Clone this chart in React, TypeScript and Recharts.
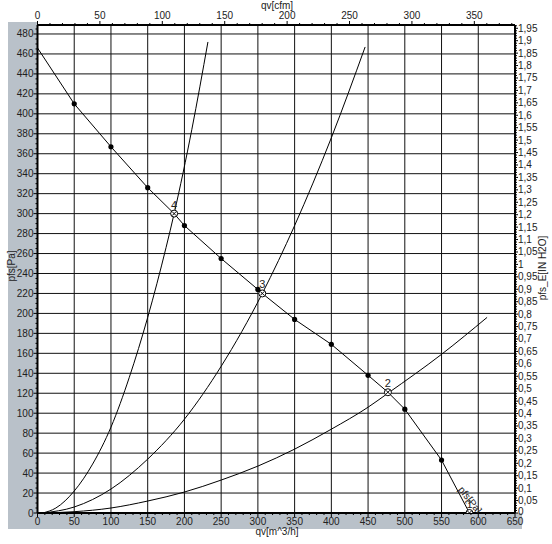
import React from 'react';
import { ComposedChart, Line, Scatter, XAxis, YAxis, ReferenceLine } from 'recharts';

const FONT = '"Liberation Sans", Arial, sans-serif';
const PA_PER_IN = 249.089;
const M3H_PER_CFM = 1.699;
const FLOW_MAX = 650;
const PA_MAX = 489;

// fan curve pfs [Pa] over qv [m^3/h]
const fanFlow = [0, 50, 100, 150, 186, 200, 250, 300, 306, 350, 400, 450, 477, 500, 550, 588];
const fanPressure = [466, 410, 367, 326, 300, 288, 255, 224, 220, 194, 169, 138, 121, 104, 53, 0];

// measured points on the fan curve
const markFlow = [50, 100, 150, 200, 250, 300, 350, 400, 450, 500, 550];
const markPressure = [410, 367, 326, 288, 255, 224, 194, 169, 138, 104, 53];

// system curves
const sysAFlow = [7, 25, 50, 75, 100, 125, 150, 175, 186, 210, 232];
const sysAPressure = [0, 5, 22, 49, 86, 136, 196, 266, 300, 384, 472];
const sysBFlow = [7, 50, 100, 150, 200, 250, 306, 350, 400, 446];
const sysBPressure = [0, 6, 24, 54, 94, 147, 220, 288, 376, 467];
const sysCFlow = [7, 50, 100, 150, 200, 250, 300, 350, 400, 450, 477, 550, 612];
const sysCPressure = [0, 1.3, 5, 12, 21, 33, 47, 64, 84, 106, 120, 159, 196];

// operating points
const opNames = ['4', '3', '2', '1'];
const opFlow = [186, 306, 477, 588];
const opPressure = [300, 220, 121, 0];

// ticks
const flowTicks = Array.from({ length: 66 }, (_, i) => i * 10);
const cfmTicks = Array.from({ length: 39 }, (_, i) => i * 10);
const paTicks = Array.from({ length: 98 }, (_, i) => i * 5);
const inTicks = Array.from({ length: 197 }, (_, i) => i / 100);
const flowGrid = [50, 100, 150, 200, 250, 300, 350, 400, 450, 500, 550, 600];
const paGrid = [20, 40, 60, 80, 100, 120, 140, 160, 180, 200, 220, 240, 260, 280, 300, 320, 340, 360, 380, 400, 420, 440, 460, 480];

const toXY = (xs: number[], ys: number[]) => xs.map((v, i) => ({ v, p: ys[i] }));
const fanData = toXY(fanFlow, fanPressure);
const markData = toXY(markFlow, markPressure);
const sysA = toXY(sysAFlow, sysAPressure);
const sysB = toXY(sysBFlow, sysBPressure);
const sysC = toXY(sysCFlow, sysCPressure);
const opData = opNames.map((n, i) => ({ n, v: opFlow[i], p: opPressure[i] }));
// invisible anchor so the cfm axis has an attached series
const cfmAnchor = cfmTicks.map((c) => ({ v: c, p: 0 }));

const txt = { fontSize: 10, fill: '#222', fontFamily: FONT };

const BottomTick = ({ x, y, payload }: any) => {
  const v = payload.value;
  const major = v % 50 === 0;
  return (
    <g>
      <line x1={x} x2={x} y1={y} y2={y + (major ? 4 : 2)} stroke="#000" />
      {major && <text x={x} y={y + 12} textAnchor="middle" {...txt}>{v}</text>}
    </g>
  );
};

const TopTick = ({ x, y, payload }: any) => {
  const v = payload.value;
  const major = v % 50 === 0;
  return (
    <g>
      <line x1={x} x2={x} y1={y} y2={y - (major ? 4 : 2)} stroke="#000" />
      {major && <text x={x} y={y - 6} textAnchor="middle" {...txt}>{v}</text>}
    </g>
  );
};

const LeftTick = ({ x, y, payload }: any) => {
  const v = payload.value;
  const major = v % 20 === 0;
  return (
    <g>
      <line x1={x} x2={x - (major ? 4 : 2)} y1={y} y2={y} stroke="#000" />
      {major && <text x={x - 4} y={y + 3.5} textAnchor="end" {...txt}>{v}</text>}
    </g>
  );
};

const RightTick = ({ x, y, payload }: any) => {
  const h = Math.round(payload.value * 100);
  const major = h % 5 === 0;
  const label = String(h / 100).replace('.', ',');
  return (
    <g>
      <line x1={x} x2={x + (major ? 3 : 2)} y1={y} y2={y} stroke="#000" />
      {major && <text x={x + 3} y={y + (h === 0 ? 2 : 3.5)} textAnchor="start" {...txt}>{label}</text>}
    </g>
  );
};

const OpShape = ({ cx, cy, payload }: any) => (
  <g>
    <circle cx={cx} cy={cy} r={3.5} fill="#fff" stroke="#000" strokeWidth={1} />
    <line x1={cx - 2} x2={cx + 2} y1={cy - 2} y2={cy + 2} stroke="#000" />
    <line x1={cx - 2} x2={cx + 2} y1={cy + 2} y2={cy - 2} stroke="#000" />
    <text x={cx} y={cy - 5} textAnchor="middle" fontSize={11} fill="#222" fontFamily={FONT}>{payload.n}</text>
    {payload.n === '1' && (
      <text
        x={cx - 2}
        y={cy - 11}
        textAnchor="middle"
        fontSize={10}
        fill="#222"
        fontFamily={FONT}
        transform={`rotate(52 ${cx - 2} ${cy - 11})`}
      >
        pfs[Pa]
      </text>
    )}
  </g>
);

const DotShape = ({ cx, cy }: any) => <circle cx={cx} cy={cy} r={2.6} fill="#000" />;
const NoShape = () => <g />;

const title: React.CSSProperties = {
  position: 'absolute',
  fontFamily: FONT,
  fontSize: 10,
  color: '#222',
  whiteSpace: 'nowrap',
  lineHeight: '10px',
};

export default function App() {
  return (
    <div style={{ position: 'absolute', left: 0, top: 0, width: 552, height: 544, background: '#fff' }}>
      <div style={{ position: 'absolute', left: 8, top: 22, width: 30, height: 507, background: '#b9c1c9' }} />
      <div style={{ position: 'absolute', left: 8, top: 513, width: 514, height: 16, background: '#b9c1c9' }} />
      <ComposedChart
        width={552}
        height={544}
        margin={{ top: 5, right: 7, bottom: 11, left: 7.5 }}
      >
        <XAxis
          xAxisId="m3"
          dataKey="v"
          type="number"
          orientation="bottom"
          domain={[0, FLOW_MAX]}
          allowDataOverflow
          ticks={flowTicks}
          interval={0}
          height={20}
          tickSize={0}
          tickMargin={0}
          tickLine={false}
          tick={<BottomTick />}
          axisLine={{ stroke: '#000', strokeWidth: 2 }}
        />
        <XAxis
          xAxisId="cfm"
          dataKey="v"
          type="number"
          orientation="top"
          domain={[0, FLOW_MAX / M3H_PER_CFM]}
          allowDataOverflow
          ticks={cfmTicks}
          interval={0}
          height={20}
          tickSize={0}
          tickMargin={0}
          tickLine={false}
          tick={<TopTick />}
          axisLine={{ stroke: '#000', strokeWidth: 2 }}
        />
        <YAxis
          yAxisId="pa"
          type="number"
          orientation="left"
          domain={[0, PA_MAX]}
          allowDataOverflow
          ticks={paTicks}
          interval={0}
          width={30}
          tickSize={0}
          tickMargin={0}
          tickLine={false}
          tick={<LeftTick />}
          axisLine={{ stroke: '#000', strokeWidth: 2 }}
        />
        <YAxis
          yAxisId="in"
          type="number"
          orientation="right"
          domain={[0, PA_MAX / PA_PER_IN]}
          allowDataOverflow
          ticks={inTicks}
          interval={0}
          width={30}
          tickSize={0}
          tickMargin={0}
          tickLine={false}
          tick={<RightTick />}
          axisLine={{ stroke: '#000', strokeWidth: 2 }}
        />
        {flowGrid.map((v) => (
          <ReferenceLine key={'x' + v} x={v} xAxisId="m3" yAxisId="pa" stroke="#111" strokeWidth={1} />
        ))}
        {paGrid.map((p) => (
          <ReferenceLine key={'y' + p} y={p} xAxisId="m3" yAxisId="pa" stroke="#111" strokeWidth={1} />
        ))}
        <Scatter data={cfmAnchor} dataKey="p" xAxisId="cfm" yAxisId="pa" shape={<NoShape />} isAnimationActive={false} />
        <Line data={sysA} dataKey="p" xAxisId="m3" yAxisId="pa" type="monotone" stroke="#000" strokeWidth={1} dot={false} isAnimationActive={false} />
        <Line data={sysB} dataKey="p" xAxisId="m3" yAxisId="pa" type="monotone" stroke="#000" strokeWidth={1} dot={false} isAnimationActive={false} />
        <Line data={sysC} dataKey="p" xAxisId="m3" yAxisId="pa" type="monotone" stroke="#000" strokeWidth={1} dot={false} isAnimationActive={false} />
        <Line data={fanData} dataKey="p" xAxisId="m3" yAxisId="pa" type="linear" stroke="#000" strokeWidth={1} dot={false} isAnimationActive={false} />
        <Scatter data={markData} dataKey="p" xAxisId="m3" yAxisId="pa" shape={<DotShape />} isAnimationActive={false} />
        <Scatter data={opData} dataKey="p" xAxisId="m3" yAxisId="pa" shape={<OpShape />} isAnimationActive={false} />
      </ComposedChart>
      <div style={{ ...title, left: 277, top: 1, transform: 'translateX(-50%)' }}>qv[cfm]</div>
      <div style={{ ...title, left: 277, top: 527, transform: 'translateX(-50%)' }}>qv[m^3/h]</div>
      <div style={{ ...title, left: 12, top: 266, transform: 'translate(-50%, -50%) rotate(-90deg)' }}>pfs[Pa]</div>
      <div style={{ ...title, left: 543, top: 268, transform: 'translate(-50%, -50%) rotate(-90deg)' }}>pfs_E[IN H2O]</div>
    </div>
  );
}
